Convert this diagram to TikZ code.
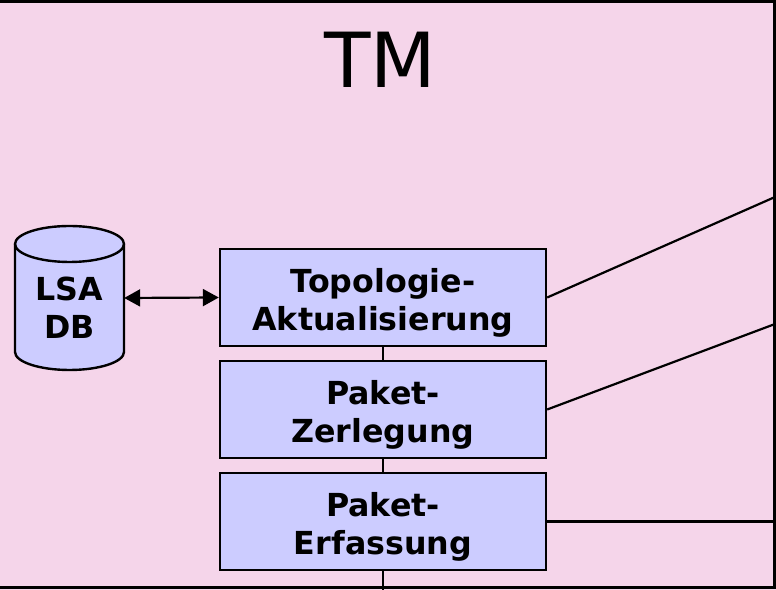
\documentclass[tikz,border=0pt]{standalone}
\usepackage{fontspec}
\setmainfont{DejaVu Sans}
\usetikzlibrary{arrows.meta}
\definecolor{tmpink}{HTML}{F5D5EA}
\definecolor{boxblue}{HTML}{CCCCFF}

\begin{document}
\begin{tikzpicture}[x=1pt,y=1pt,
  stage/.style={draw=black, line width=2.4pt, fill=boxblue,
    minimum width=326pt, minimum height=97pt, inner sep=0pt},
  stagetext/.style={font=\bfseries\fontsize{31.7}{38}\selectfont,
    align=center, inner sep=0pt},
  link/.style={line width=2.2pt},
  dblink/.style={line width=2.2pt,
    {Triangle[length=16pt,width=17pt]}-{Triangle[length=16pt,width=17pt]}}]
\useasboundingbox (0,0) rectangle (776,589);
% module background and frame
\fill[tmpink] (-3,-3) rectangle (779,592);
\draw[line width=3pt] (-3,587.5) -- (774.5,587.5) -- (774.5,2) -- (-3,2);

% title
\node[font=\fontsize{76}{90}\selectfont, anchor=base, inner sep=0pt] (title)
  at (380,501) {TM};

% processing stages
\node[stage] (topo) at (383,291.5) {};
\node[stagetext] (topot) at ([yshift=-5.4pt]topo.center) {Topologie-\\Aktualisierung};
\node[stage] (zerl) at (383,179.5) {};
\node[stagetext] (zerlt) at ([yshift=-5.4pt]zerl.center) {Paket-\\Zerlegung};
\node[stage] (erf) at (383,67.5) {};
\node[stagetext] (erft) at ([yshift=-5.4pt]erf.center) {Paket-\\Erfassung};

% database cylinder
\node[inner sep=0pt, minimum width=109pt, minimum height=144pt] (db) at (69.5,291) {};
\filldraw[fill=boxblue, line width=2.4pt]
  (15,345) -- (15,237)
  arc[start angle=180, end angle=360, x radius=54.5, y radius=18]
  -- (124,345)
  arc[start angle=0, end angle=180, x radius=54.5, y radius=18] -- cycle;
\draw[line width=2.4pt] (15,345)
  arc[start angle=180, end angle=360, x radius=54.5, y radius=18];
\node[stagetext] (dbt) at ([yshift=-9.5pt]db.center) {LSA\\DB};

% connectors
\coordinate (bottomend) at (383,-3);
\coordinate (out1) at (775,392);
\coordinate (out2) at (775,265);
\coordinate (out3) at (775,67.5);

\draw[dblink] (db.east) -- (topo.west);
\draw[link] (topo.south) -- (zerl.north);
\draw[link] (zerl.south) -- (erf.north);
\draw[link] (erf.south) -- (bottomend);
\draw[link] (topo.east) -- (out1);
\draw[link] (zerl.east) -- (out2);
\draw[link] (erf.east) -- (out3);
\end{tikzpicture}
\end{document}
